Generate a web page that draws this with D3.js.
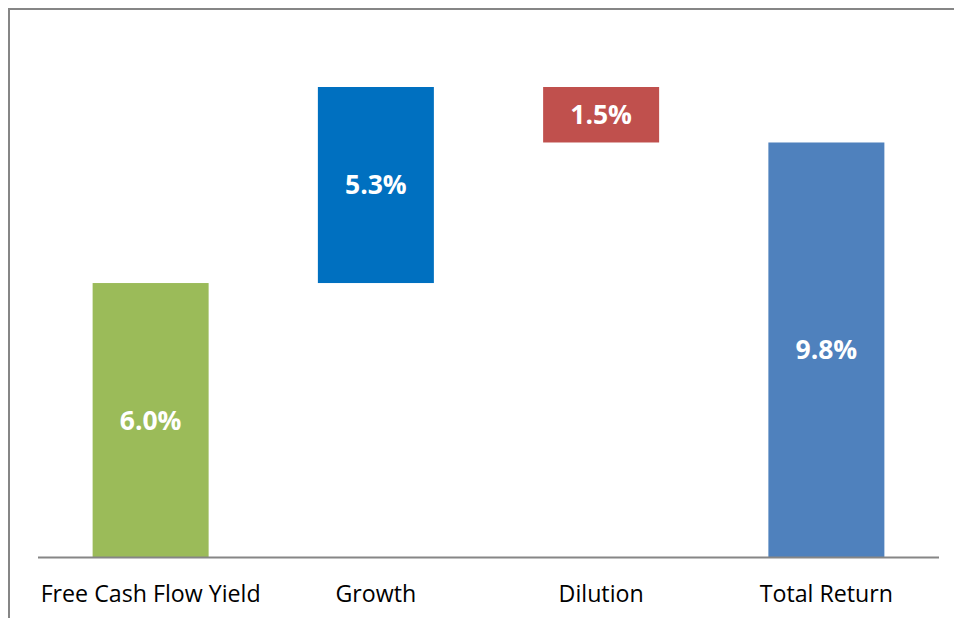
<!DOCTYPE html>
<html>
<head>
<meta charset="utf-8">
<script src="https://cdn.jsdelivr.net/npm/d3@7/dist/d3.min.js"></script>
<style>
  html, body { margin: 0; padding: 0; background: #fff; }
  svg { display: block; }
</style>
</head>
<body>
<svg id="chart" width="954" height="618"></svg>
<script>
// Waterfall: yield + growth - dilution = total return
const categories = ["Free Cash Flow Yield", "Growth", "Dilution", "Total Return"];
const changes    = [6.0, 5.3, -1.5, 9.8];
const kinds      = ["start", "up", "down", "total"];
const valueLabels = ["6.0%", "5.3%", "1.5%", "9.8%"];
const colors     = ["#9BBB59", "#0070C0", "#C0504D", "#4F81BD"];

// Value-axis bounds (axis floor sits below zero, as in the source workbook)
const yFloor = -1.42;
const yCeil  = 11.3;

const svg = d3.select("#chart");
const plot = { left: 38, right: 939, top: 87, bottom: 557.5 };

// Build running start/end for each step
let running = 0;
const bars = categories.map((c, i) => {
  let lo, hi;
  if (kinds[i] === "start") { lo = yFloor; hi = changes[i]; running = changes[i]; }
  else if (kinds[i] === "total") { lo = yFloor; hi = changes[i]; }
  else {
    const next = running + changes[i];
    lo = Math.min(running, next); hi = Math.max(running, next);
    running = next;
  }
  return { cat: c, lo, hi, label: valueLabels[i], color: colors[i] };
});

const x = d3.scaleBand()
  .domain(categories)
  .range([plot.left, plot.right])
  .paddingInner(0.485)
  .paddingOuter(0.2425);

const y = d3.scaleLinear()
  .domain([yFloor, yCeil])
  .range([plot.bottom, plot.top]);

// Outer chart frame (only top and left edges fall inside the view)
svg.append("rect")
  .attr("x", 9).attr("y", 9)
  .attr("width", 1000).attr("height", 700)
  .attr("fill", "none")
  .attr("stroke", "#868686")
  .attr("stroke-width", 2);

// Bars
svg.append("g").selectAll("rect")
  .data(bars)
  .join("rect")
  .attr("x", d => x(d.cat))
  .attr("width", x.bandwidth())
  .attr("y", d => y(d.hi))
  .attr("height", d => y(d.lo) - y(d.hi))
  .attr("fill", d => d.color);

// Value labels centred in each bar
const labelSize = 26.5;
svg.append("g").selectAll("text")
  .data(bars)
  .join("text")
  .attr("x", d => x(d.cat) + x.bandwidth() / 2)
  .attr("y", d => (y(d.lo) + y(d.hi)) / 2 + labelSize * 0.357)
  .attr("text-anchor", "middle")
  .attr("font-family", "'Open Sans', sans-serif")
  .attr("font-weight", "bold")
  .attr("font-size", labelSize)
  .attr("fill", "#ffffff")
  .text(d => d.label);

// Category axis
const xAxis = svg.append("g")
  .attr("transform", `translate(0,${plot.bottom})`)
  .call(d3.axisBottom(x).tickSize(0).tickPadding(0));
xAxis.select(".domain")
  .attr("stroke", "#868686")
  .attr("stroke-width", 2)
  .attr("d", `M${plot.left},0H${plot.right}`);
xAxis.selectAll(".tick text")
  .attr("y", 44)
  .attr("dy", null)
  .attr("font-family", "'Open Sans', sans-serif")
  .attr("font-size", 23.2)
  .attr("fill", "#000000");
</script>
</body>
</html>
